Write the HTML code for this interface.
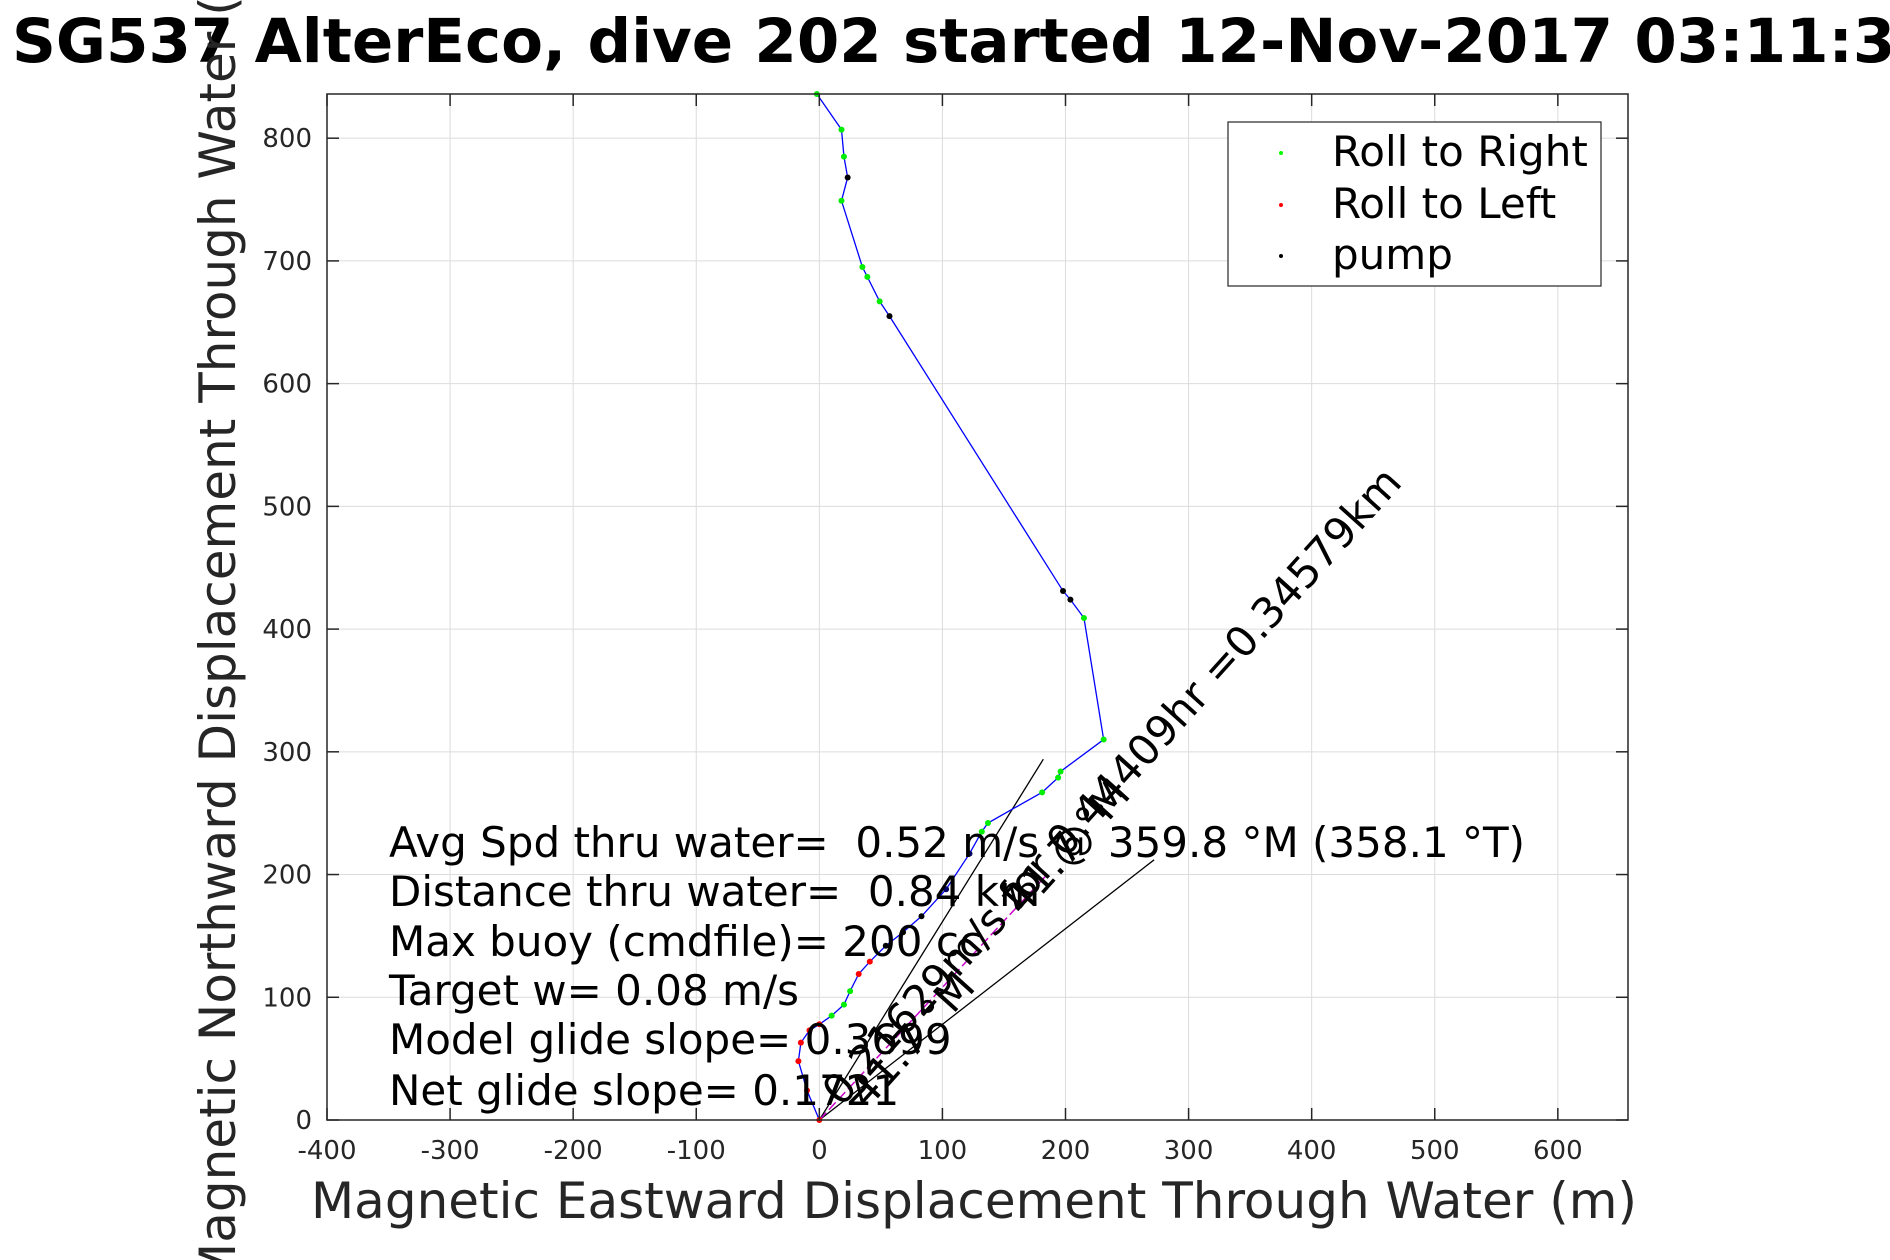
<!DOCTYPE html>
<html><head><meta charset="utf-8"><style>
html,body{margin:0;padding:0;background:#fff;width:1890px;height:1260px;overflow:hidden}
svg text{font-family:"DejaVu Sans","Liberation Sans",sans-serif;white-space:pre}
</style></head><body>
<svg id="chart" width="1890" height="1260" xmlns="http://www.w3.org/2000/svg">
<text x="12" y="62" font-size="61" font-weight="bold" fill="#000">SG537 AlterEco, dive 202 started 12-Nov-2017 03:11:37</text>
<rect x="327" y="94" width="1301" height="1026" fill="#fff" stroke="none"/>
<g id="grid"></g>
<g id="series"></g>
<rect x="327" y="94" width="1301" height="1026" fill="none" stroke="#262626" stroke-width="1.5"/>
<g id="ticks"></g>
<g font-size="42" fill="#000">
<text x="389" y="857">Avg Spd thru water=&#160; 0.52 m/s @ 359.8 °M (358.1 °T)</text>
<text x="389" y="906">Distance thru water=&#160; 0.84 km</text>
<text x="389" y="956">Max buoy (cmdfile)= 200 cc</text>
<text x="389" y="1005">Target w= 0.08 m/s</text>
<text x="389" y="1054">Model glide slope= 0.3699</text>
<text x="389" y="1105">Net glide slope= 0.1721</text>
</g>
<g id="rot"></g>
<text x="974" y="1218" font-size="50" fill="#262626" text-anchor="middle">Magnetic Eastward Displacement Through Water (m)</text>
<text transform="translate(235,607) rotate(-90)" font-size="50" fill="#262626" text-anchor="middle">Magnetic Northward Displacement Through Water (m)</text>
<g>
<rect x="1228" y="122" width="373" height="164" fill="#fff" stroke="#262626" stroke-width="1.2"/>
<circle cx="1281" cy="153" r="2" fill="#00ff00"/>
<text x="1332" y="166" font-size="42">Roll to Right</text>
<circle cx="1281" cy="205" r="2" fill="#ff0000"/>
<text x="1332" y="218" font-size="42">Roll to Left</text>
<circle cx="1281" cy="256" r="2" fill="#000"/>
<text x="1332" y="269" font-size="42">pump</text>
</g>
</svg>
<script>
const xTicks=[-400,-300,-200,-100,0,100,200,300,400,500,600];
const yTicks=[0,100,200,300,400,500,600,700,800];
const pathX=[0,-10,-17,-15,-8,0,10,20,25,32,41,54,68,83,103,122,132,137,181,194,196,231,215,204,198,57,49,39,35,18,23,20,18,-2];
const pathY=[0,24,48,63,73,78,85,94,105,119,129,142,153,166,188,217,235,242,267,279,284,310,409,424,431,655,667,687,695,749,768,785,807,836];
const markerType=['L','L','L','L','L','L','R','R','R','L','L','P','P','P','N','N','R','R','R','R','R','R','R','P','P','P','R','R','R','R','P','R','R','R'];
const guideEnds=[[182,294],[272,212]];
const headingEnd=[185,200];
const NS='http://www.w3.org/2000/svg';
const X0=327,X1=1628,Y0=1120,Y1=94,xMin=-400,xMax=657,yMin=0,yMax=836;
function sx(v){return X0+(v-xMin)/(xMax-xMin)*(X1-X0);}
function sy(v){return Y0-(v-yMin)/(yMax-yMin)*(Y0-Y1);}
function mk(tag,attrs,parent){const e=document.createElementNS(NS,tag);for(const k in attrs)e.setAttribute(k,attrs[k]);parent.appendChild(e);return e;}
const grid=document.getElementById('grid'),ticks=document.getElementById('ticks'),ser=document.getElementById('series'),rot=document.getElementById('rot');
xTicks.forEach(t=>{
 const g=mk('line',{x1:sx(t),x2:sx(t),y1:Y1,y2:Y0,stroke:'#dcdcdc','stroke-width':1},grid);
 
 
 const a=mk('line',{x1:sx(t),x2:sx(t),y1:Y0,y2:Y0-12,stroke:'#262626','stroke-width':1.5},ticks);
 
 
 const b=mk('line',{x1:sx(t),x2:sx(t),y1:Y1,y2:Y1+12,stroke:'#262626','stroke-width':1.5},ticks);
 
 
 const l=mk('text',{x:sx(t),y:1159,'font-size':26,'text-anchor':'middle',fill:'#262626'},ticks);
 l.textContent=t;
 
 
});
yTicks.forEach(t=>{
 const g=mk('line',{x1:X0,x2:X1,y1:sy(t),y2:sy(t),stroke:'#dcdcdc','stroke-width':1},grid);
 
 
 const a=mk('line',{x1:X0,x2:X0+12,y1:sy(t),y2:sy(t),stroke:'#262626','stroke-width':1.5},ticks);
 
 
 const b=mk('line',{x1:X1,x2:X1-12,y1:sy(t),y2:sy(t),stroke:'#262626','stroke-width':1.5},ticks);
 
 
 const l=mk('text',{x:312,y:sy(t)+9,'font-size':26,'text-anchor':'end',fill:'#262626'},ticks);
 l.textContent=t;
 
 
});
guideEnds.forEach(p=>{
 const l=mk('line',{x1:sx(0),y1:sy(0),x2:sx(p[0]),y2:sy(p[1]),stroke:'#000','stroke-width':1.3},ser);
 
 
});
const hl=mk('line',{x1:sx(0),y1:sy(0),x2:sx(headingEnd[0]),y2:sy(headingEnd[1]),stroke:'#cc00cc','stroke-width':1.5,'stroke-dasharray':'10 4'},ser);


const pl=mk('polyline',{points:pathX.map((x,i)=>sx(x)+','+sy(pathY[i])).join(' '),fill:'none',stroke:'#0000ff','stroke-width':1.3},ser);


const col={L:'#ff0000',R:'#00ee00',P:'#000000',N:'#000066'};
pathX.forEach((x,i)=>{
 const c=mk('circle',{cx:sx(x),cy:sy(pathY[i]),r:3,fill:col[markerType[i]]},ser);
 
 
});
const t1=mk('text',{transform:'translate('+(sx(0)+22)+','+(sy(0)-12)+') rotate(-48)','font-size':42,fill:'#000'},rot);
t1.textContent='0.21629m/s for 0.44409hr =0.34579km';


const t2=mk('text',{transform:'translate('+(sx(0)+48)+','+(sy(0)-10)+') rotate(-48)','font-size':42,fill:'#000'},rot);
t2.textContent='41.7 °M';


const t3=mk('text',{transform:'translate('+(sx(165))+','+(sy(165))+') rotate(-48)','font-size':42,fill:'#000'},rot);
t3.textContent='41.7 °M';


</script>
</body></html>
